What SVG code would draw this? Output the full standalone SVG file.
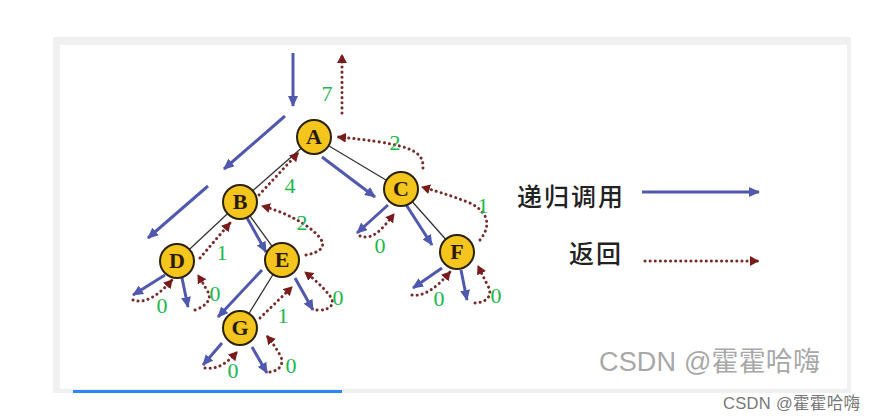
<svg xmlns="http://www.w3.org/2000/svg" width="876" height="419" viewBox="0 0 876 419">
<defs>
<marker id="ab" markerUnits="userSpaceOnUse" markerWidth="12" markerHeight="10" refX="10" refY="5" orient="auto"><path d="M0,0 L11,5 L0,10 Z" fill="#5058b0"/></marker>
<marker id="ar" markerUnits="userSpaceOnUse" markerWidth="10" markerHeight="10" refX="8" refY="5" orient="auto"><path d="M0,0 L9,5 L0,10 Z" fill="#7a1a1a"/></marker>
</defs>
<style>
.edge{stroke:#333;stroke-width:1.3;fill:none}
.call{stroke:#5058b0;stroke-width:3;fill:none;marker-end:url(#ab)}
.ret{stroke:#7a2a2a;stroke-width:3;fill:none;stroke-dasharray:0.1 5;stroke-linecap:round;marker-end:url(#ar)}
.node circle{fill:#f4c51c;stroke:#2a2200;stroke-width:2}
.node text{font-family:"Liberation Serif",serif;font-weight:bold;font-size:22px;fill:#2a1a00;text-anchor:middle}
.lbl{font-family:"Liberation Serif",serif;font-size:22px;fill:#1bb84c;text-anchor:middle}
.leg{font-family:"Noto Sans CJK SC",sans-serif;font-size:25px;font-weight:500;fill:#222;letter-spacing:2px}
</style>
<rect width="876" height="419" fill="#fff"/>
<rect x="53" y="37" width="798" height="356" fill="#f0f0f0"/>
<rect x="60" y="45" width="787" height="344" fill="#fff"/>
<rect x="73" y="390" width="269" height="3" fill="#2b87f5"/>
<g id="connectors">
<line class="edge" x1="314" y1="137" x2="240" y2="202"/>
<line class="edge" x1="314" y1="137" x2="401" y2="189"/>
<line class="edge" x1="240" y1="202" x2="177" y2="261"/>
<line class="edge" x1="240" y1="202" x2="282" y2="260"/>
<line class="edge" x1="401" y1="189" x2="457" y2="252"/>
<line class="edge" x1="282" y1="260" x2="240" y2="328"/>
<path class="call" d="M293,53 L293,106"/>
<path class="call" d="M285,116 L224,169"/>
<path class="call" d="M208,186 L148,238"/>
<path class="call" d="M322,157 L375,197"/>
<path class="call" d="M246,216 L266,252"/>
<path class="call" d="M405,203 L432,245"/>
<path class="call" d="M388,205 L357,233"/>
<path class="call" d="M165,275 L133,295"/>
<path class="call" d="M182,278 L188,307"/>
<path class="call" d="M262,270 L218,317"/>
<path class="call" d="M295,278 L313,310"/>
<path class="call" d="M222,343 L203,365"/>
<path class="call" d="M252,347 L267,373"/>
<path class="call" d="M442,268 L413,288"/>
<path class="call" d="M461,270 L467,300"/>
<path class="ret" d="M342,113 L342,55"/>
<path class="ret" d="M423,168 C424,152 410,147 380,142 C360,139 348,138 338,137"/>
<path class="ret" d="M480,240 C492,225 488,212 470,203 C450,195 432,190 422,187"/>
<path class="ret" d="M259,195 L298,153"/>
<path class="ret" d="M306,255 C322,252 326,246 320,238 C310,225 285,212 262,206"/>
<path class="ret" d="M200,258 L230,223"/>
<path class="ret" d="M133,300 C145,304 158,296 172,280"/>
<path class="ret" d="M195,310 C207,306 212,298 208,292 C204,285 201,280 198,275"/>
<path class="ret" d="M317,310 C330,311 336,304 330,296 C323,287 314,279 305,272"/>
<path class="ret" d="M260,318 L292,287"/>
<path class="ret" d="M205,368 C218,370 228,362 237,352"/>
<path class="ret" d="M270,372 C282,370 284,362 280,355 C276,348 272,342 267,336"/>
<path class="ret" d="M360,236 C372,240 380,232 394,214"/>
<path class="ret" d="M412,295 C425,297 438,286 450,272"/>
<path class="ret" d="M475,303 C490,302 492,293 488,286 C484,278 481,272 478,266"/>
</g>
<g id="A" class="node"><circle cx="314" cy="137" r="17"/><text x="314" y="144">A</text></g>
<g id="B" class="node"><circle cx="240" cy="202" r="17"/><text x="240" y="209">B</text></g>
<g id="C" class="node"><circle cx="401" cy="189" r="17"/><text x="401" y="196">C</text></g>
<g id="D" class="node"><circle cx="177" cy="261" r="17"/><text x="177" y="268">D</text></g>
<g id="E" class="node"><circle cx="282" cy="260" r="17"/><text x="282" y="267">E</text></g>
<g id="F" class="node"><circle cx="457" cy="252" r="17"/><text x="457" y="259">F</text></g>
<g id="G" class="node"><circle cx="240" cy="328" r="17"/><text x="240" y="335">G</text></g>
<g id="labels">
<text class="lbl" x="327" y="101">7</text>
<text class="lbl" x="395" y="150">2</text>
<text class="lbl" x="483" y="213">1</text>
<text class="lbl" x="290" y="193">4</text>
<text class="lbl" x="302" y="230">2</text>
<text class="lbl" x="222" y="260">1</text>
<text class="lbl" x="162" y="313">0</text>
<text class="lbl" x="215" y="301">0</text>
<text class="lbl" x="338" y="305">0</text>
<text class="lbl" x="283" y="323">1</text>
<text class="lbl" x="233" y="378">0</text>
<text class="lbl" x="291" y="373">0</text>
<text class="lbl" x="380" y="253">0</text>
<text class="lbl" x="439" y="306">0</text>
<text class="lbl" x="496" y="303">0</text>
</g>
<g id="legend">
<text class="leg" x="517" y="206">递归调用</text>
<path class="call" d="M642,192 L759,192"/>
<text class="leg" x="569" y="263">返回</text>
<path class="ret" d="M645,261 L758,261"/>
</g>
<text x="599" y="371" font-family="'Liberation Sans','Noto Sans CJK SC',sans-serif" font-size="27" fill="#a8a8a8" textLength="221">CSDN @霍霍哈嗨</text>
<text x="723" y="409" font-family="'Liberation Sans','Noto Sans CJK SC',sans-serif" font-size="16.5" fill="#777" textLength="137">CSDN @霍霍哈嗨</text>
</svg>
